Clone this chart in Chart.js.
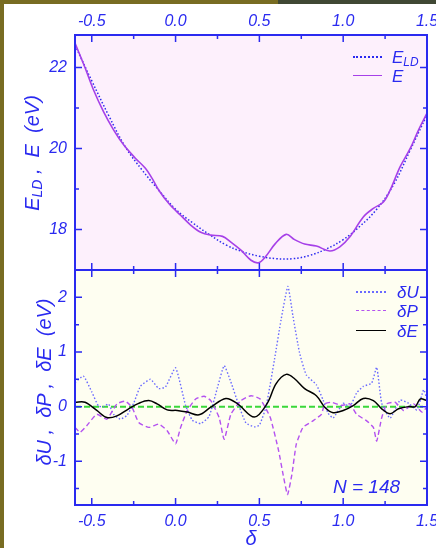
<!DOCTYPE html>
<html>
<head>
<meta charset="utf-8">
<script src="https://cdn.jsdelivr.net/npm/chart.js@4.4.0/dist/chart.umd.min.js"></script>
<style>
  html, body { margin: 0; padding: 0; background: #fff; }
  #wrap { position: relative; width: 436px; height: 548px; overflow: hidden; background: #fff;
          font-family: "Liberation Sans", Arial, sans-serif; font-style: italic; color: #2a2af0; }
  .bar { position: absolute; }
  #chart { position: absolute; left: 0; top: 0; }
  .txt { position: absolute; white-space: nowrap; line-height: 1; }
  .ytitle { transform: translate(-50%, -50%) rotate(-90deg); font-size: 20px; }
  .leg { position: absolute; font-size: 17px; line-height: 1; white-space: nowrap; }
  .sample { position: absolute; height: 0; }
  sub { font-size: 70%; vertical-align: -0.25em; }
</style>
</head>
<body>
<div id="wrap">
  <div class="bar" style="left:0;top:0;width:4px;height:548px;background:#786c22"></div>
  <div class="bar" style="left:0;top:0;width:278px;height:4px;background:#786c22"></div>
  <div class="bar" style="left:278px;top:0;width:158px;height:4px;background:#404834"></div>
  <canvas id="chart" width="436" height="548"></canvas>

  <div class="txt ytitle" style="left:33px;top:153px">E<sub>LD</sub>&nbsp;,&nbsp; E &nbsp;(eV)</div>
  <div class="txt ytitle" style="left:44px;top:382px">&delta;U ,&nbsp; &delta;P ,&nbsp; &delta;E &nbsp;(eV)</div>
  <div class="txt" style="left:251px;top:538px;transform:translate(-50%,-50%);font-size:20px">&delta;</div>
  <div class="txt" style="left:333px;top:477px;font-size:19px">N = 148</div>

  <div class="sample" style="left:353px;top:56px;width:29px;border-top:2px dotted #2a2af0"></div>
  <div class="leg" style="left:392px;top:49px">E<sub>LD</sub></div>
  <div class="sample" style="left:353px;top:75px;width:29px;border-top:1.5px solid #a640e8"></div>
  <div class="leg" style="left:392px;top:68px">E</div>

  <div class="sample" style="left:356px;top:291px;width:30px;border-top:2px dotted #6a6aff"></div>
  <div class="leg" style="left:397px;top:284px">&delta;U</div>
  <div class="sample" style="left:356px;top:310px;width:30px;border-top:1.5px dashed #b452f0"></div>
  <div class="leg" style="left:397px;top:303px">&delta;P</div>
  <div class="sample" style="left:356px;top:330px;width:30px;border-top:1.6px solid #000"></div>
  <div class="leg" style="left:397px;top:323px">&delta;E</div>
</div>
<script>
// x range shared by both panels
const deltaMin = -0.6;
const deltaMax = 1.5;
const xMajor = [-0.5, 0, 0.5, 1.0, 1.5];
const xMinor = [-0.25, 0.25, 0.75, 1.25];

// upper panel: energies (eV)
const topMajor = [18, 20, 22];
const topMinor = [19, 21];
const eldX = [-0.6, -0.5, -0.4, -0.3, -0.2, -0.1, 0.0, 0.1, 0.2, 0.3, 0.4, 0.5, 0.6, 0.7, 0.8, 0.9, 1.0, 1.1, 1.2, 1.3, 1.4, 1.5];
const eldY = [22.55, 21.67, 20.82, 20.04, 19.47, 18.97, 18.5, 18.17, 17.88, 17.62, 17.45, 17.34, 17.28, 17.28, 17.36, 17.52, 17.75, 18.08, 18.5, 19.1, 19.96, 20.83];
const eX = [-0.6, -0.54, -0.49, -0.43, -0.37, -0.31, -0.24, -0.18, -0.14, -0.10, -0.04, 0.03, 0.09, 0.15, 0.21, 0.28, 0.33, 0.39, 0.45, 0.495, 0.535, 0.595, 0.66, 0.71, 0.77, 0.84, 0.92, 0.98, 1.04, 1.12, 1.18, 1.24, 1.28, 1.34, 1.40, 1.45, 1.50];
const eY = [22.6, 21.99, 21.45, 20.91, 20.46, 20.09, 19.76, 19.51, 19.26, 18.97, 18.64, 18.35, 18.11, 17.93, 17.86, 17.83, 17.69, 17.49, 17.24, 17.18, 17.32, 17.65, 17.88, 17.75, 17.64, 17.59, 17.47, 17.57, 17.82, 18.31, 18.52, 18.68, 18.97, 19.55, 20.0, 20.46, 20.87];

// lower panel: differences (eV)
const botMajor = [-1, 0, 1, 2];
const botMinor = [-1.5, -0.5, 0.5, 1.5];
const dUX = [-0.6, -0.55, -0.50, -0.46, -0.43, -0.40, -0.37, -0.33, -0.29, -0.25, -0.21, -0.15, -0.10, -0.06, 0.0, 0.06, 0.10, 0.15, 0.20, 0.25, 0.29, 0.33, 0.38, 0.42, 0.47, 0.50, 0.54, 0.59, 0.63, 0.67, 0.70, 0.74, 0.78, 0.84, 0.88, 0.91, 0.94, 1.0, 1.04, 1.08, 1.12, 1.17, 1.20, 1.23, 1.28, 1.34, 1.39, 1.44, 1.48, 1.50];
const dUY = [0.44, 0.56, 0.27, 0.01, 0.0, 0.05, -0.14, -0.23, -0.16, 0.06, 0.37, 0.50, 0.33, 0.36, 0.71, 0.02, -0.25, -0.31, -0.18, 0.35, 0.75, 0.45, 0.0, -0.30, -0.37, -0.34, 0.0, 0.86, 1.60, 2.20, 1.66, 0.98, 0.58, 0.40, 0.12, -0.12, -0.21, 0.06, 0.0, 0.25, 0.37, 0.43, 0.72, 0.06, -0.21, 0.12, 0.06, -0.06, 0.31, 0.13];
const dPX = [-0.6, -0.57, -0.53, -0.47, -0.41, -0.35, -0.30, -0.26, -0.22, -0.16, -0.10, -0.05, 0.0, 0.03, 0.07, 0.12, 0.17, 0.21, 0.26, 0.29, 0.33, 0.39, 0.45, 0.505, 0.565, 0.615, 0.645, 0.668, 0.694, 0.72, 0.76, 0.82, 0.87, 0.89, 0.93, 0.99, 1.04, 1.08, 1.14, 1.18, 1.20, 1.23, 1.26, 1.31, 1.36, 1.42, 1.47, 1.50];
const dPY = [-0.38, -0.47, -0.35, -0.14, -0.23, 0.05, 0.10, -0.01, -0.29, -0.38, -0.32, -0.44, -0.68, -0.38, -0.07, 0.14, 0.19, 0.11, -0.20, -0.60, -0.14, 0.11, 0.20, 0.14, -0.20, -0.81, -1.30, -1.61, -1.24, -0.69, -0.38, -0.26, -0.14, 0.05, 0.08, 0.02, 0.05, -0.14, -0.26, -0.38, -0.63, -0.20, 0.05, 0.08, -0.07, 0.05, -0.10, -0.01];
const dEX = [-0.6, -0.54, -0.47, -0.41, -0.35, -0.28, -0.22, -0.16, -0.11, -0.05, 0.01, 0.07, 0.14, 0.21, 0.30, 0.37, 0.47, 0.545, 0.60, 0.66, 0.71, 0.77, 0.84, 0.89, 0.94, 1.0, 1.06, 1.12, 1.18, 1.23, 1.28, 1.33, 1.39, 1.43, 1.46, 1.50];
const dEY = [0.08, 0.08, -0.07, -0.2, -0.17, -0.04, 0.06, 0.11, 0.05, -0.06, -0.07, -0.1, -0.15, -0.01, 0.15, 0.05, -0.19, 0.05, 0.42, 0.59, 0.51, 0.33, 0.20, -0.01, -0.11, -0.07, 0.02, 0.15, 0.11, -0.04, -0.13, -0.04, 0.0, 0.0, 0.14, 0.11];
const zeroX = [-0.6, 1.5];
const zeroY = [0, 0];

const axisBlue = '#2a2af0';
const topBg = '#fdf0fc';
const botBg = '#fefef1';
const tickFont = { family: '"Liberation Sans", Arial, sans-serif', style: 'italic', size: 16 };

const pts = (xs, ys) => xs.map((x, i) => ({ x: x, y: ys[i] }));

// backgrounds, frames and inward tick marks for both panels
const panelFrame = {
    id: 'panelFrame',
    beforeDatasetsDraw(chart) {
        const { ctx, chartArea, scales } = chart;
        ctx.save();
        ctx.fillStyle = topBg;
        ctx.fillRect(chartArea.left, scales.yTop.top, chartArea.width, scales.yTop.bottom - scales.yTop.top);
        ctx.fillStyle = botBg;
        ctx.fillRect(chartArea.left, scales.yBot.top, chartArea.width, scales.yBot.bottom - scales.yBot.top);
        ctx.restore();
    },
    afterDatasetsDraw(chart) {
        const { ctx, chartArea, scales } = chart;
        const L = chartArea.left, R = chartArea.right;
        ctx.save();
        ctx.strokeStyle = axisBlue;
        ctx.lineWidth = 1.5;
        const panels = [
            { s: scales.yTop, major: topMajor, minor: topMinor },
            { s: scales.yBot, major: botMajor, minor: botMinor }
        ];
        panels.forEach(p => {
            const T = p.s.top, B = p.s.bottom;
            ctx.beginPath();
            [[xMajor, 7], [xMinor, 4]].forEach(([vals, len]) => {
                vals.forEach(v => {
                    const px = scales.x.getPixelForValue(v);
                    ctx.moveTo(px, T); ctx.lineTo(px, T + len);
                    ctx.moveTo(px, B); ctx.lineTo(px, B - len);
                });
            });
            [[p.major, 7], [p.minor, 4]].forEach(([vals, len]) => {
                vals.forEach(v => {
                    const py = p.s.getPixelForValue(v);
                    ctx.moveTo(L, py); ctx.lineTo(L + len, py);
                    ctx.moveTo(R, py); ctx.lineTo(R - len, py);
                });
            });
            ctx.stroke();
        });
        ctx.lineWidth = 2;
        ctx.strokeRect(L, scales.yTop.top, R - L, scales.yTop.bottom - scales.yTop.top);
        ctx.strokeRect(L, scales.yBot.top, R - L, scales.yBot.bottom - scales.yBot.top);
        ctx.restore();
    }
};

function fixSize(prop, size) {
    return scale => {
        scale[prop] = size;
        scale.paddingLeft = 0; scale.paddingRight = 0;
        scale.paddingTop = 0; scale.paddingBottom = 0;
    };
}

function setTicks(vals) {
    return scale => { scale.ticks = vals.map(v => ({ value: v })); };
}

new Chart(document.getElementById('chart'), {
    type: 'line',
    data: {
        datasets: [{
            label: 'E',
            data: pts(eX, eY),
            xAxisID: 'x', yAxisID: 'yTop',
            borderColor: '#a640e8', borderWidth: 1.6, tension: 0.35
        }, {
            label: 'E_LD',
            data: pts(eldX, eldY),
            xAxisID: 'x', yAxisID: 'yTop',
            borderColor: '#2a2af0', borderWidth: 1.5, borderDash: [1.5, 2], tension: 0.4
        }, {
            label: 'δE',
            data: pts(dEX, dEY),
            xAxisID: 'x', yAxisID: 'yBot',
            borderColor: '#000000', borderWidth: 1.5, tension: 0.35
        }, {
            label: 'δP',
            data: pts(dPX, dPY),
            xAxisID: 'x', yAxisID: 'yBot',
            borderColor: '#b452f0', borderWidth: 1.4, borderDash: [5, 3], tension: 0.15
        }, {
            label: 'δU',
            data: pts(dUX, dUY),
            xAxisID: 'x', yAxisID: 'yBot',
            borderColor: '#6a6aff', borderWidth: 1.4, borderDash: [1.5, 2], tension: 0.15
        }, {
            label: 'zero',
            data: pts(zeroX, zeroY),
            xAxisID: 'x', yAxisID: 'yBot',
            borderColor: '#3ad83a', borderWidth: 2, borderDash: [6, 3]
        }]
    },
    options: {
        responsive: false,
        animation: false,
        events: [],
        elements: { point: { radius: 0 } },
        layout: { padding: { left: 0, right: 9, top: 0, bottom: 0 } },
        plugins: { legend: { display: false }, tooltip: { enabled: false } },
        scales: {
            x: {
                type: 'linear', position: 'bottom', min: deltaMin, max: deltaMax,
                grid: { display: false, drawTicks: false }, border: { display: false },
                afterBuildTicks: setTicks(xMajor),
                afterFit: fixSize('height', 43),
                ticks: { color: axisBlue, font: tickFont, padding: 7, maxRotation: 0, autoSkip: false,
                         callback: v => v.toFixed(1) }
            },
            xTop: {
                type: 'linear', position: 'top', min: deltaMin, max: deltaMax,
                grid: { display: false, drawTicks: false }, border: { display: false },
                afterBuildTicks: setTicks(xMajor),
                afterFit: fixSize('height', 35),
                ticks: { color: axisBlue, font: tickFont, padding: 4, maxRotation: 0, autoSkip: false,
                         callback: v => v.toFixed(1) }
            },
            yBot: {
                type: 'linear', position: 'left', stack: 'panels', stackWeight: 1,
                min: -1.8, max: 2.5,
                grid: { display: false, drawTicks: false }, border: { display: false },
                afterBuildTicks: setTicks(botMajor),
                afterFit: fixSize('width', 75),
                ticks: { color: axisBlue, font: tickFont, padding: 8, callback: v => String(v) }
            },
            yTop: {
                type: 'linear', position: 'left', stack: 'panels', stackWeight: 1,
                min: 17, max: 22.8,
                grid: { display: false, drawTicks: false }, border: { display: false },
                afterBuildTicks: setTicks(topMajor),
                afterFit: fixSize('width', 75),
                ticks: { color: axisBlue, font: tickFont, padding: 8, callback: v => String(v) }
            }
        }
    },
    plugins: [panelFrame]
});
</script>
</body>
</html>
